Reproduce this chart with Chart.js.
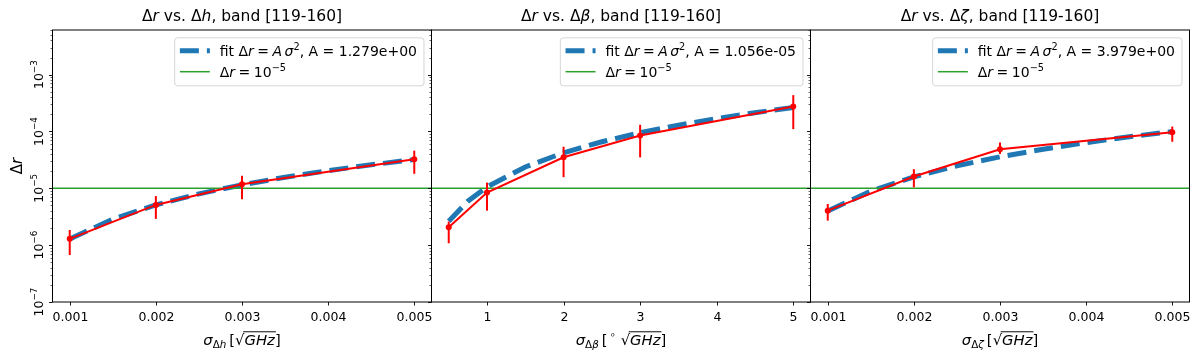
<!DOCTYPE html>
<html>
<head>
<meta charset="utf-8">
<script src="https://cdn.jsdelivr.net/npm/chart.js@4.4.0/dist/chart.umd.min.js"></script>
<style>
    html, body { margin: 0; padding: 0; background: #fff; }
    #wrap { position: relative; width: 1200px; height: 362px; }
    #wrap canvas { position: absolute; left: 0; top: 0; }
</style>
</head>
<body>
<div id="wrap">
    <canvas id="panelH" width="1200" height="362"></canvas>
    <canvas id="panelB" width="1200" height="362"></canvas>
    <canvas id="panelZ" width="1200" height="362"></canvas>
</div>
<script>
// values
const rThreshold = 1e-5;
const yTicks = [1e-7, 1e-6, 1e-5, 1e-4, 1e-3];
const yRange = [1e-7, 6.1e-3];

// panel 1: delta h
const xH = [0.001, 0.002, 0.003, 0.005];
const rH = [1.29e-6, 5.1e-6, 1.18e-5, 3.25e-5];
const rHLo = [6.7e-7, 2.9e-6, 6.4e-6, 1.8e-5];
const rHHi = [1.85e-6, 7.3e-6, 1.67e-5, 4.6e-5];
const fitXH = [0.001, 0.0015, 0.002, 0.0025, 0.003, 0.0035, 0.004, 0.0045, 0.005];
const fitH = [1.28e-6, 2.88e-6, 5.12e-6, 8.0e-6, 1.15e-5, 1.57e-5, 2.05e-5, 2.59e-5, 3.2e-5];
const xTicksH = [0.001, 0.002, 0.003, 0.004, 0.005];
const xRangeH = [0.0008, 0.0052];

// panel 2: delta beta
const xB = [0.5, 1, 2, 3, 5];
const rB = [2.07e-6, 8.4e-6, 3.52e-5, 8.5e-5, 2.74e-4];
const rBLo = [1.08e-6, 4.05e-6, 1.57e-5, 3.5e-5, 1.1e-4];
const rBHi = [2.6e-6, 1.26e-5, 5.4e-5, 1.31e-4, 4.36e-4];
const fitXB = [0.5, 0.75, 1, 1.5, 2, 2.5, 3, 3.5, 4, 4.5, 5];
const fitB = [2.64e-6, 5.94e-6, 1.056e-5, 2.38e-5, 4.22e-5, 6.6e-5, 9.5e-5, 1.29e-4, 1.69e-4, 2.14e-4, 2.64e-4];
const xTicksB = [1, 2, 3, 4, 5];
const xRangeB = [0.275, 5.225];

// panel 3: delta zeta
const xZ = [0.001, 0.002, 0.003, 0.005];
const rZ = [4.05e-6, 1.61e-5, 4.88e-5, 9.7e-5];
const rZLo = [2.7e-6, 1.04e-5, 4.0e-5, 6.6e-5];
const rZHi = [5.3e-6, 2.17e-5, 6.4e-5, 1.22e-4];
const fitXZ = [0.001, 0.0015, 0.002, 0.0025, 0.003, 0.0035, 0.004, 0.0045, 0.005];
const fitZ = [3.98e-6, 8.95e-6, 1.59e-5, 2.49e-5, 3.58e-5, 4.87e-5, 6.37e-5, 8.06e-5, 9.95e-5];
const xTicksZ = [0.001, 0.002, 0.003, 0.004, 0.005];
const xRangeZ = [0.0008, 0.0052];

const fitA = ['1.279e+00', '1.056e-05', '3.979e+00'];

const BLUE = '#1f77b4';
const RED = '#ff0000';
const GREEN = '#2ca02c';
const FONT = '"DejaVu Sans"';

function runFont(size, italic) {
    return (italic ? 'italic ' : '') + size + 'px ' + FONT;
}

// text made of runs: [text, kind]; kind: it, sup, sub, subit, sqrtit, gap
function layoutRuns(ctx, runs, size) {
    let w = 0;
    const items = runs.map(function (r) {
        const text = r[0];
        const kind = r[1] || '';
        if (kind === 'gap') {
            const it = { kind: kind, w: r[2] * size, x: w };
            w += it.w;
            return it;
        }
        const small = kind.indexOf('sup') === 0 || kind.indexOf('sub') === 0;
        const s = small ? size * 0.7 : size;
        const italic = kind.indexOf('it') >= 0;
        let dy = 0;
        if (kind.indexOf('sup') === 0) dy = -size * 0.42;
        if (kind.indexOf('sub') === 0) dy = size * 0.22;
        ctx.font = runFont(s, italic);
        let tw = ctx.measureText(text).width;
        let rad = 0;
        if (kind.indexOf('sqrt') === 0) {
            ctx.font = runFont(size, false);
            rad = ctx.measureText('\u221a').width;
            tw += rad;
        }
        const it = { text: text, kind: kind, s: s, italic: italic, dy: dy, x: w, w: tw, rad: rad };
        w += tw;
        return it;
    });
    return { items: items, width: w };
}

function drawRuns(ctx, runs, size, x, y, align) {
    const lay = layoutRuns(ctx, runs, size);
    let x0 = x;
    if (align === 'center') x0 = x - lay.width / 2;
    if (align === 'right') x0 = x - lay.width;
    ctx.textBaseline = 'alphabetic';
    ctx.textAlign = 'left';
    lay.items.forEach(function (it) {
        if (it.kind === 'gap') return;
        if (it.kind.indexOf('sqrt') === 0) {
            ctx.font = runFont(size, false);
            ctx.fillText('\u221a', x0 + it.x, y);
            ctx.font = runFont(it.s, it.italic);
            ctx.fillText(it.text, x0 + it.x + it.rad, y);
            ctx.save();
            ctx.strokeStyle = ctx.fillStyle;
            ctx.lineWidth = size * 0.065;
            ctx.beginPath();
            ctx.moveTo(x0 + it.x + it.rad * 0.85, y - size * 0.86);
            ctx.lineTo(x0 + it.x + it.w + 1, y - size * 0.86);
            ctx.stroke();
            ctx.restore();
            return;
        }
        ctx.font = runFont(it.s, it.italic);
        ctx.fillText(it.text, x0 + it.x, y + it.dy);
    });
    return lay.width;
}

const decor = {
    id: 'decor',
    afterDatasetsDraw(chart, args, opts) {
        const ctx = chart.ctx;
        const a = chart.chartArea;
        const xs = chart.scales.x;
        const ys = chart.scales.y;
        const cx = (a.left + a.right) / 2;

        // error bars
        ctx.save();
        ctx.strokeStyle = RED;
        ctx.lineWidth = 2;
        opts.ex.forEach(function (xv, i) {
            const px = xs.getPixelForValue(xv);
            ctx.beginPath();
            ctx.moveTo(px, ys.getPixelForValue(opts.lo[i]));
            ctx.lineTo(px, ys.getPixelForValue(opts.hi[i]));
            ctx.stroke();
        });
        ctx.restore();

        ctx.save();
        ctx.fillStyle = '#000';
        ctx.strokeStyle = '#000';

        // frame
        ctx.lineWidth = 1;
        ctx.strokeRect(a.left, a.top, a.right - a.left, a.bottom - a.top);

        // x ticks
        ctx.font = runFont(12.5, false);
        ctx.textAlign = 'center';
        ctx.textBaseline = 'alphabetic';
        opts.xTicks.forEach(function (v) {
            const px = Math.round(xs.getPixelForValue(v)) + 0.5;
            ctx.lineWidth = 0.9;
            ctx.beginPath();
            ctx.moveTo(px, a.bottom);
            ctx.lineTo(px, a.bottom + 3.5);
            ctx.stroke();
            ctx.fillText(String(v), px, 321);
        });

        // y ticks, major and minor
        for (let e = -7; e <= -3; e++) {
            for (let m = 1; m <= 9; m++) {
                const v = m * Math.pow(10, e);
                if (v > ys.max) break;
                const py = Math.round(ys.getPixelForValue(v)) + 0.5;
                const len = m === 1 ? 3.5 : 2;
                ctx.lineWidth = m === 1 ? 0.9 : 0.6;
                ctx.beginPath();
                ctx.moveTo(a.left, py);
                ctx.lineTo(a.left - len, py);
                ctx.stroke();
            }
        }
        if (opts.yLabels) {
            opts.yLabels.forEach(function (v) {
                const py = ys.getPixelForValue(v);
                const expo = Math.round(Math.log10(v));
                const runs = [['10'], ['\u2212' + Math.abs(expo), 'sup']];
                ctx.save();
                ctx.translate(42.5, py);
                ctx.rotate(-Math.PI / 2);
                drawRuns(ctx, runs, 12.5, 0, 0, 'center');
                ctx.restore();
            });
            ctx.save();
            ctx.translate(21.5, (a.top + a.bottom) / 2);
            ctx.rotate(-Math.PI / 2);
            drawRuns(ctx, [['\u0394'], ['r', 'it']], 15, 0, 0, 'center');
            ctx.restore();
        }

        // title and x label
        drawRuns(ctx, opts.title, 15.5, cx, 21, 'center');
        drawRuns(ctx, opts.xLabel, 14.8, cx, 344.5, 'center');

        // legend
        const size = 14;
        const row1 = [['fit '], ['\u0394'], ['r', 'it'], ['', 'gap', 0.25], ['='], ['', 'gap', 0.25],
            ['A', 'it'], ['', 'gap', 0.17], ['\u03c3', 'it'], ['2', 'sup'], [', A = ' + opts.A]];
        const row2 = [['\u0394'], ['r', 'it'], ['', 'gap', 0.25], ['='], ['', 'gap', 0.25], ['10'], ['\u22125', 'sup']];
        const w1 = layoutRuns(ctx, row1, size).width;
        const w2 = layoutRuns(ctx, row2, size).width;
        const boxR = a.right - 8;
        const boxW = 45.6 + Math.max(w1, w2) + 6.5;
        const boxL = boxR - boxW;
        const boxT = a.top + 7.3;
        const boxH = 48;
        ctx.save();
        ctx.beginPath();
        ctx.roundRect(boxL + 0.5, boxT + 0.5, boxW, boxH, 3);
        ctx.fillStyle = 'rgba(255,255,255,0.8)';
        ctx.fill();
        ctx.strokeStyle = 'rgba(204,204,204,0.8)';
        ctx.lineWidth = 1;
        ctx.stroke();
        ctx.restore();

        const hx = boxL + 5.7;
        ctx.save();
        ctx.strokeStyle = BLUE;
        ctx.lineWidth = 5;
        ctx.setLineDash([19, 8]);
        ctx.beginPath();
        ctx.moveTo(hx, boxT + 13.4);
        ctx.lineTo(hx + 30, boxT + 13.4);
        ctx.stroke();
        ctx.setLineDash([]);
        ctx.strokeStyle = GREEN;
        ctx.lineWidth = 1.5;
        ctx.beginPath();
        ctx.moveTo(hx, boxT + 34.4);
        ctx.lineTo(hx + 30, boxT + 34.4);
        ctx.stroke();
        ctx.restore();

        drawRuns(ctx, row1, size, boxL + 45.6, boxT + 18.5, 'left');
        drawRuns(ctx, row2, size, boxL + 45.6, boxT + 39.5, 'left');

        ctx.restore();
    }
};

function points(xv, yv) {
    return xv.map(function (v, i) { return { x: v, y: yv[i] }; });
}

function buildPanel(canvasId, p) {
    new Chart(document.getElementById(canvasId), {
        type: 'line',
        data: {
            datasets: [
                {
                    data: points(p.x, p.r),
                    borderColor: RED,
                    backgroundColor: RED,
                    borderWidth: 2,
                    pointRadius: 3,
                    pointBorderWidth: 0,
                    order: 0
                },
                {
                    data: [{ x: p.xRange[0], y: rThreshold }, { x: p.xRange[1], y: rThreshold }],
                    borderColor: GREEN,
                    borderWidth: 1.5,
                    pointRadius: 0,
                    order: 1
                },
                {
                    data: points(p.fitX, p.fit),
                    borderColor: BLUE,
                    borderWidth: 5,
                    borderDash: [19, 8],
                    borderCapStyle: 'butt',
                    pointRadius: 0,
                    order: 2
                }
            ]
        },
        options: {
            responsive: false,
            animation: false,
            devicePixelRatio: 1,
            layout: {
                padding: { left: p.left, right: 1200 - p.right, top: 30, bottom: 60 }
            },
            plugins: {
                legend: { display: false },
                tooltip: { enabled: false },
                decor: {
                    ex: p.x, lo: p.lo, hi: p.hi,
                    xTicks: p.xTicks,
                    yLabels: p.yLabels,
                    title: p.title,
                    xLabel: p.xLabel,
                    A: p.A
                }
            },
            scales: {
                x: { type: 'linear', display: false, bounds: 'data', min: p.xRange[0], max: p.xRange[1] },
                y: { type: 'logarithmic', display: false, bounds: 'data', min: yRange[0], max: yRange[1] }
            }
        },
        plugins: [decor]
    });
}

document.addEventListener('DOMContentLoaded', function () {
    buildPanel('panelH', {
        left: 52.5, right: 431.5,
        x: xH, r: rH, lo: rHLo, hi: rHHi, fitX: fitXH, fit: fitH,
        xTicks: xTicksH, xRange: xRangeH, yLabels: yTicks, A: fitA[0],
        title: [['\u0394'], ['r', 'it'], [' vs. \u0394'], ['h', 'it'], [', band [119-160]']],
        xLabel: [['\u03c3', 'it'], ['\u0394', 'sub'], ['h', 'subit'], ['', 'gap', 0.2], ['['], ['GHz', 'sqrtit'], [']']]
    });
    buildPanel('panelB', {
        left: 431.5, right: 810.5,
        x: xB, r: rB, lo: rBLo, hi: rBHi, fitX: fitXB, fit: fitB,
        xTicks: xTicksB, xRange: xRangeB, yLabels: null, A: fitA[1],
        title: [['\u0394'], ['r', 'it'], [' vs. \u0394'], ['\u03b2', 'it'], [', band [119-160]']],
        xLabel: [['\u03c3', 'it'], ['\u0394', 'sub'], ['\u03b2', 'subit'], ['', 'gap', 0.2], ['['], ['', 'gap', 0.15],
            ['\u2218', 'sup'], ['', 'gap', 0.3], ['GHz', 'sqrtit'], [']']]
    });
    buildPanel('panelZ', {
        left: 810.5, right: 1189.5,
        x: xZ, r: rZ, lo: rZLo, hi: rZHi, fitX: fitXZ, fit: fitZ,
        xTicks: xTicksZ, xRange: xRangeZ, yLabels: null, A: fitA[2],
        title: [['\u0394'], ['r', 'it'], [' vs. \u0394'], ['\u03b6', 'it'], [', band [119-160]']],
        xLabel: [['\u03c3', 'it'], ['\u0394', 'sub'], ['\u03b6', 'subit'], ['', 'gap', 0.2], ['['], ['GHz', 'sqrtit'], [']']]
    });
});
</script>
</body>
</html>
